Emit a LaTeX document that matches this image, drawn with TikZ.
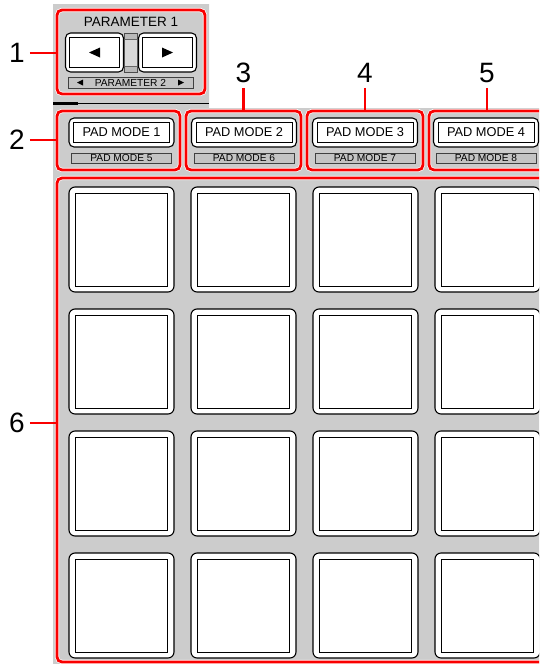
\documentclass[tikz,border=0pt]{standalone}
\usepackage{fontspec}
\setmainfont{Liberation Sans}
\usetikzlibrary{positioning,calc}
\definecolor{panelgray}{RGB}{204,204,204}
\definecolor{stripgray}{RGB}{196,196,196}
\definecolor{markred}{RGB}{250,0,0}
\tikzset{
  markbox/.style={draw=markred,line width=2.8pt,rounded corners=5pt,inner sep=0pt,
    preaction={draw=white,line width=4.2pt}},
  calloutnum/.style={inner sep=0pt,font=\fontsize{28}{28}\selectfont},
  calloutline/.style={draw=markred,line width=2.4pt},
  keycap/.style={draw=black,fill=white,rounded corners=5pt,line width=1.1pt,inner sep=0pt},
  keyface/.style={draw=black,fill=white,line width=1pt,inner sep=0pt},
  shiftstrip/.style={draw=black!75,fill=stripgray,line width=0.8pt,inner sep=0pt,
    minimum width=100pt,minimum height=10pt,font=\fontsize{10.2}{10.2}\selectfont},
  padcap/.style={keycap,rounded corners=6pt,minimum width=105pt,minimum height=105pt},
  padface/.style={keyface,minimum width=92pt,minimum height=93pt}
}

\begin{document}
\begin{tikzpicture}[x=1pt,y=-1pt]
  \useasboundingbox (0,0) rectangle (539,664);
  \clip (0,0) rectangle (539,664);
  % panel
  \fill[panelgray] (53,4) -- (209,4) -- (209,108) -- (539,108) -- (539,664) -- (53,664) -- cycle;
  \draw[line width=1.1pt] (53,103.5) -- (209,103.5);
  \draw[line width=2.4pt] (53,103.5) -- (78,103.5);

  % highlighted sections
  \node[markbox,minimum width=148pt,minimum height=84pt] (box1) at (131,52) {};
  \node[markbox,minimum width=123pt,minimum height=59pt] (box2) at (118.5,140.5) {};
  \node[markbox,minimum width=115pt,minimum height=59pt] (box3) at (243.5,140.5) {};
  \node[markbox,minimum width=116pt,minimum height=59pt] (box4) at (365,140.5) {};
  \node[markbox,minimum width=116pt,minimum height=59pt] (box5) at (487,140.5) {};
  \node[markbox,minimum width=503pt,minimum height=484pt] (box6) at (308.5,420) {};

  % parameter buttons
  \node[font=\fontsize{13.5}{13.5}\selectfont,inner sep=0pt] (param1) at (131,22) {PARAMETER 1};
  \filldraw[fill=gray!55,draw=black!70,line width=0.6pt] (124,33) rectangle (137,72);
  \filldraw[fill=gray!30,draw=black!60,line width=0.5pt] (124,39) rectangle (137,66);
  \node[keycap,minimum width=58pt,minimum height=39pt] (pleft) at (94.5,52.5) {};
  \node[keyface,minimum width=50pt,minimum height=30pt] (pleftface) at (pleft.center) {};
  \node[keycap,minimum width=58pt,minimum height=39pt] (pright) at (167.5,52.5) {};
  \node[keyface,minimum width=50pt,minimum height=30pt] (prightface) at (pright.center) {};
  \fill ([xshift=-5.5pt]pleft.center) -- ++(11,-5) -- ++(0,10) -- cycle;
  \fill ([xshift=5.5pt]pright.center) -- ++(-11,-5) -- ++(0,10) -- cycle;
  \node[shiftstrip,minimum width=125pt,minimum height=11pt] (param2) at (130.5,82.5) {PARAMETER 2};
  \fill (77,82.5) -- ++(6,-3) -- ++(0,6) -- cycle;
  \fill (184,82.5) -- ++(-6,-3) -- ++(0,6) -- cycle;

  % pad mode buttons
  \foreach \top/\bot/\cx in {1/5/121.5, 2/6/244, 3/7/365, 4/8/486} {
    \node[keycap,minimum width=105pt,minimum height=29pt] (mode-\top) at (\cx,132.5) {};
    \node[keyface,minimum width=96pt,minimum height=20pt,font=\fontsize{12.8}{12.8}\selectfont]
      (modeface-\top) at (mode-\top.center) {PAD MODE \top};
    \node[shiftstrip] (shift-\bot) at (\cx,158) {PAD MODE \bot};
  }

  % performance pads
  \foreach \r in {0,...,3}
    \foreach \c in {0,...,3} {
      \node[padcap] (pad-\r-\c) at (121.5+122*\c,239.5+122*\r) {};
      \node[padface] (face-\r-\c) at (pad-\r-\c.center) {};
    }

  % callouts
  \node[calloutnum] (n1) at (17,53) {1};
  \node[calloutnum] (n2) at (17,140) {2};
  \node[calloutnum] (n3) at (243.5,73) {3};
  \node[calloutnum] (n4) at (365,73) {4};
  \node[calloutnum] (n5) at (487,73) {5};
  \node[calloutnum] (n6) at (17,423) {6};
  \draw[calloutline,shorten <=5pt] (n1.east) -- (n1.east -| box1.west);
  \draw[calloutline,shorten <=5pt] (n2.east) -- (n2.east -| box2.west);
  \draw[calloutline,shorten <=5pt] (n6.east) -- (n6.east -| box6.west);
  \draw[calloutline,shorten <=5pt] (n3.south) -- (n3.south |- box3.north);
  \draw[calloutline,shorten <=5pt] (n4.south) -- (n4.south |- box4.north);
  \draw[calloutline,shorten <=5pt] (n5.south) -- (n5.south |- box5.north);
\end{tikzpicture}
\end{document}
